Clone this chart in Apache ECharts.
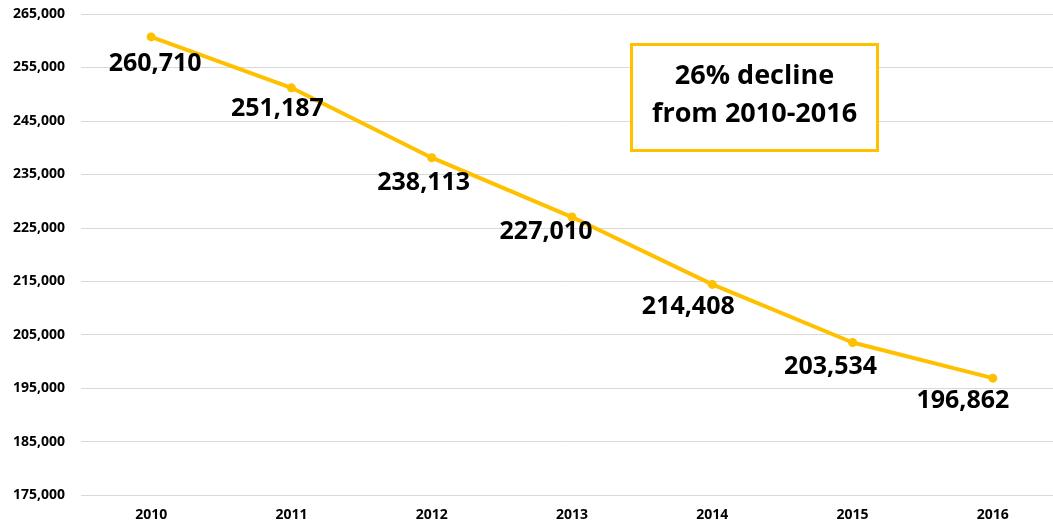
<!DOCTYPE html>
<html>
<head>
<meta charset="utf-8">
<script src="https://cdn.jsdelivr.net/npm/echarts@6/dist/echarts.min.js"></script>
<style>html,body{margin:0;padding:0;background:#fff;}#c{width:1053px;height:524px;}</style>
</head>
<body>
<div id="c"></div>
<script>
const years = ['2010','2011','2012','2013','2014','2015','2016'];
const values = [260710, 251187, 238113, 227010, 214408, 203534, 196862];
const annotationLines = ['26% decline', 'from 2010-2016'];
const yMin = 175000, yMax = 265000, yStep = 10000;

// label placement (pixels, relative to each point) - styling only
const labelShift = [[4,27],[-14,21],[-8,25],[-26,15],[-24,22],[-22,24],[-30,23]];

const chart = echarts.init(document.getElementById('c'), null, {renderer: 'canvas'});
const font = '"Open Sans", Calibri, sans-serif';
const fmt = v => v.toLocaleString('en-US');
chart.setOption({
  animation: false,
  backgroundColor: '#ffffff',
  grid: {left: 81, top: 14, width: 982, height: 481, containLabel: false, outerBoundsMode: 'none'},
  xAxis: {
    type: 'category', data: years, boundaryGap: true,
    axisLine: {show: false}, axisTick: {show: false},
    axisLabel: {margin: 13, fontFamily: font, fontWeight: 'bold', fontSize: 14, color: '#000'}
  },
  yAxis: {
    type: 'value', min: yMin, max: yMax, interval: yStep,
    axisLine: {show: false}, axisTick: {show: false},
    splitLine: {lineStyle: {color: '#d9d9d9', width: 1}},
    axisLabel: {margin: 16, fontFamily: font, fontWeight: 'bold', fontSize: 14, color: '#000',
      formatter: fmt}
  },
  series: [{
    type: 'line',
    data: values.map((v, i) => ({value: v, label: {offset: labelShift[i]}})),
    lineStyle: {color: '#FFC000', width: 4},
    itemStyle: {color: '#FFC000'},
    symbol: 'circle', symbolSize: 9,
    label: {show: true, position: 'inside',
      fontFamily: font, fontWeight: 'bold', fontSize: 25, color: '#000',
      formatter: p => fmt(p.value)}
  }],
  graphic: [{
    type: 'group', left: 630, top: 43, z: 100,
    children: [
      {type: 'rect', z: 100, shape: {x: 0, y: 0, width: 246, height: 106},
       style: {fill: '#fff', stroke: '#FFC000', lineWidth: 3}},
      {type: 'text', z: 101, x: 123, y: 51,
       style: {text: annotationLines.join('\n'), align: 'center', verticalAlign: 'middle',
         font: 'bold 27px ' + font, lineHeight: 38, fill: '#000'}}
    ]
  }]
});
</script>
</body>
</html>
